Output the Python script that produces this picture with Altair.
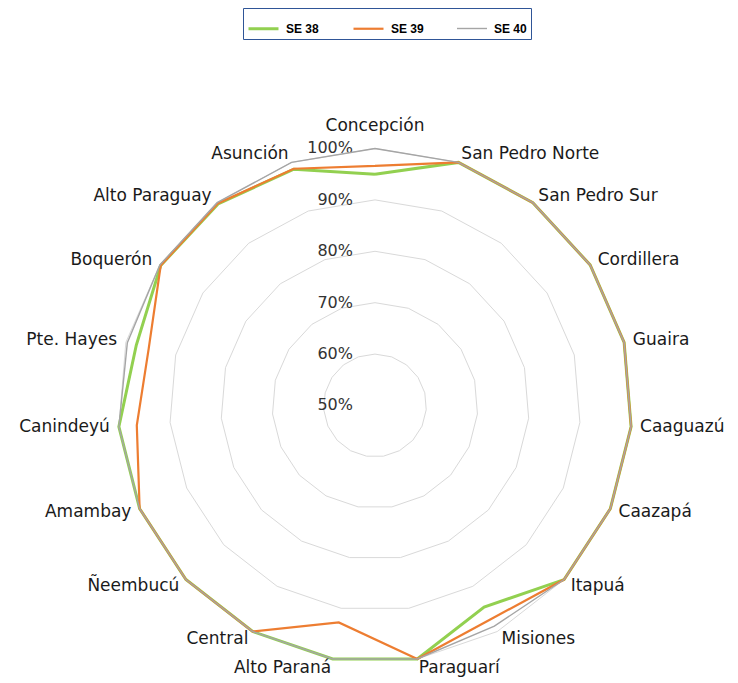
import altair as alt
import pandas as pd

# ---- data ----
categories = ["Concepción", "San Pedro Norte", "San Pedro Sur", "Cordillera", "Guaira",
              "Caaguazú", "Caazapá", "Itapuá", "Misiones", "Paraguarí", "Alto Paraná",
              "Central", "Ñeembucú", "Amambay", "Canindeyú", "Pte. Hayes", "Boquerón",
              "Alto Paraguay", "Asunción"]
se38 = [95.0, 100, 100, 100, 100, 100, 100, 100, 94.6, 100, 100,
        100, 100, 100, 100, 97.9, 99.8, 99.7, 98.6]
se39 = [96.6, 100, 100, 100, 100, 100, 100, 100, 97.3, 100, 92.8,
        100, 100, 100, 96.5, 95.4, 99.8, 99.8, 98.7]
se40 = [100, 100, 100, 100, 100, 100, 100, 100, 98.8, 100, 100,
        100, 100, 100, 100, 99.7, 100, 100, 100]
series_names = ["SE 38", "SE 39", "SE 40"]
series_colors = ["#92D050", "#ED7D31", "#A5A5A5"]
series_widths = [3, 1.4, 1.4]
grid_levels = [60, 70, 80, 90, 100]
tick_levels = [50, 60, 70, 80, 90, 100]
tick_labels = ["50%", "60%", "70%", "80%", "90%", "100%"]

N = len(categories)
rows = []
for name, vals in zip(series_names, [se38, se39, se40]):
    for k in range(N + 1):
        rows.append({"series": name, "idx": k, "value": vals[k % N]})
series_df = pd.DataFrame(rows)
grid_df = pd.DataFrame([{"level": lv, "idx": k} for lv in grid_levels for k in range(N + 1)])
tick_df = pd.DataFrame({"level": tick_levels, "label": tick_labels})
label_df = pd.DataFrame({"category": categories, "idx": list(range(N)), "value": [101.75] * N})

ANG = f"datum.idx * 2 * PI / {N}"
xs = alt.Scale(domain=[-71.40, 69.07], nice=False, zero=False)
ys = alt.Scale(domain=[-53.99, 77.33], nice=False, zero=False)
X = alt.X("px:Q", scale=xs, axis=None)
Y = alt.Y("py:Q", scale=ys, axis=None)

FONT = "DejaVu Sans"

grid = alt.Chart(grid_df).transform_calculate(
    ang=ANG, r="datum.level - 50"
).transform_calculate(
    px="datum.r * sin(datum.ang)", py="datum.r * cos(datum.ang)"
).mark_line(color="#D9D9D9", strokeWidth=1).encode(
    x=X, y=Y, detail="level:N", order="idx:Q"
)

ticks = alt.Chart(tick_df).transform_calculate(
    px="0", py="datum.level - 50"
).mark_text(align="right", baseline="middle", dx=-22, font=FONT, fontSize=16,
            color="#333333").encode(x=X, y=Y, text="label:N")

lines = alt.Chart(series_df).transform_calculate(
    ang=ANG, r="datum.value - 50"
).transform_calculate(
    px="datum.r * sin(datum.ang)", py="datum.r * cos(datum.ang)"
).mark_line(strokeJoin="miter").encode(
    x=X, y=Y, order="idx:Q",
    color=alt.Color("series:N", scale=alt.Scale(domain=series_names, range=series_colors),
                    legend=alt.Legend(orient="none", legendX=235, legendY=0,
                                      direction="horizontal", title=None,
                                      symbolType="stroke", symbolSize=900,
                                      symbolStrokeWidth=2.5,
                                      labelFont="Liberation Sans", labelFontWeight="bold",
                                      labelFontSize=12, labelColor="#000000",
                                      labelOffset=6, columnPadding=30, padding=4,
                                      strokeColor="#2F5597", fillColor="white")),
    strokeWidth=alt.StrokeWidth("series:N",
                                scale=alt.Scale(domain=series_names, range=series_widths),
                                legend=None),
)

lab_base = alt.Chart(label_df).transform_calculate(
    ang=ANG, r="datum.value - 50"
).transform_calculate(
    px="datum.r * sin(datum.ang)", py="datum.r * cos(datum.ang)", s="sin(datum.ang)"
)
lab_right = lab_base.transform_filter("datum.s > 0.05").mark_text(
    align="left", baseline="middle", font=FONT, fontSize=17, color="#1a1a1a"
).encode(x=X, y=Y, text="category:N")
lab_left = lab_base.transform_filter("datum.s < -0.05").mark_text(
    align="right", baseline="middle", font=FONT, fontSize=17, color="#1a1a1a"
).encode(x=X, y=Y, text="category:N")
lab_top = lab_base.transform_filter("abs(datum.s) <= 0.05").mark_text(
    align="center", baseline="bottom", dy=-4, font=FONT, fontSize=17, color="#1a1a1a"
).encode(x=X, y=Y, text="category:N")

chart = alt.layer(grid, ticks, lines, lab_right, lab_left, lab_top).properties(
    width=722, height=675, padding=0, autosize="none"
).configure_view(stroke=None)

chart.save("out.html", embed_options={"renderer": "svg", "actions": False})
